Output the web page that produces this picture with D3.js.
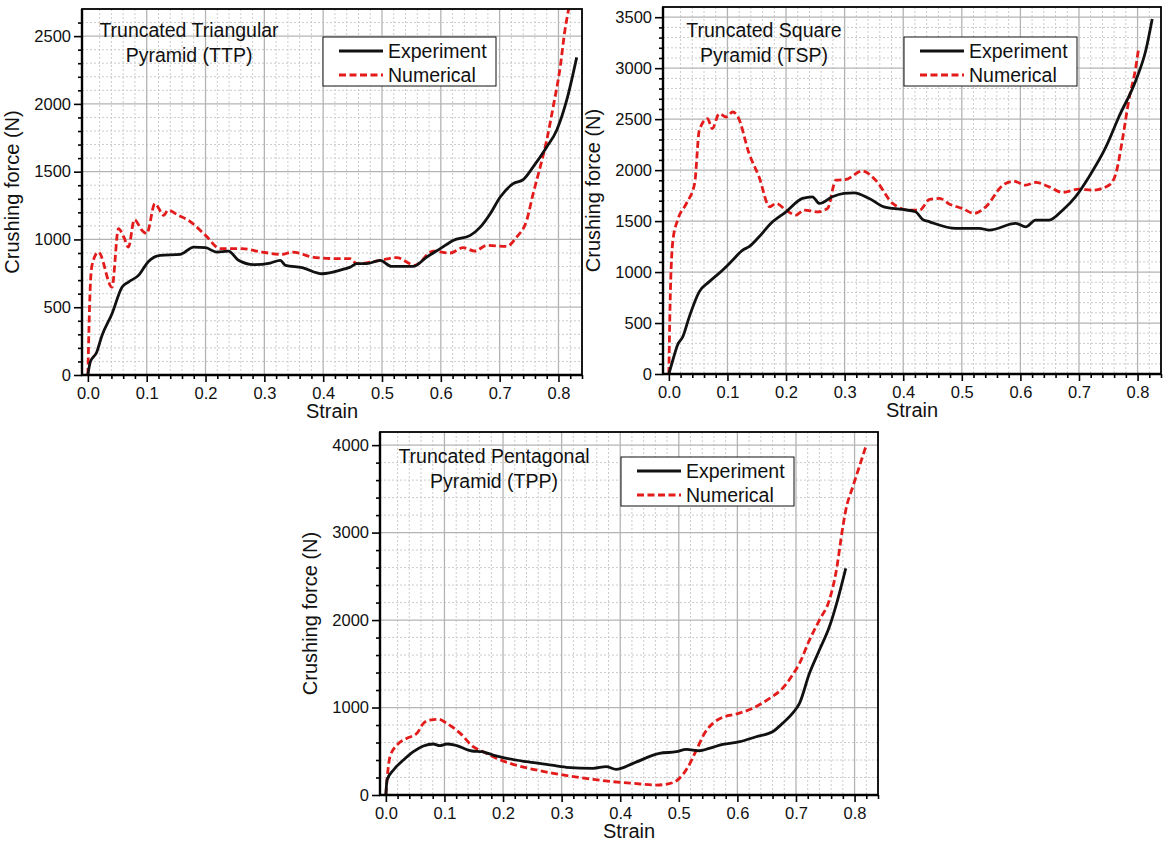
<!DOCTYPE html>
<html>
<head>
<meta charset="utf-8">
<script src="https://cdn.jsdelivr.net/npm/d3@7"></script>
<style>
  body { margin: 0; background: #fff; }
  svg { display: block; font-family: "Liberation Sans", Arial, sans-serif; }
  .tick text { font-family: "Liberation Sans", Arial, sans-serif; }
</style>
</head>
<body>
<div id="chart"></div>
<script>
// Strain / crushing force curves
const ttpExperiment = [[0,0],[0.004,95],[0.015,168],[0.024,292],[0.041,452],[0.058,648],[0.069,686],[0.086,735],[0.103,838],[0.123,883],[0.157,890],[0.18,944],[0.2,939],[0.219,907],[0.239,914],[0.256,846],[0.282,814],[0.31,826],[0.327,846],[0.336,809],[0.364,792],[0.398,747],[0.432,777],[0.446,796],[0.457,821],[0.474,821],[0.497,846],[0.516,801],[0.553,801],[0.576,870],[0.599,932],[0.621,993],[0.65,1030],[0.667,1091],[0.684,1190],[0.701,1313],[0.723,1412],[0.74,1441],[0.757,1535],[0.78,1682],[0.797,1806],[0.814,2027],[0.831,2343]];
const ttpNumerical = [[0,0],[0.004,648],[0.007,809],[0.018,907],[0.041,648],[0.052,1080],[0.061,1018],[0.069,944],[0.079,1146],[0.092,1067],[0.1,1043],[0.114,1264],[0.129,1178],[0.136,1215],[0.154,1178],[0.171,1141],[0.2,1030],[0.225,932],[0.262,932],[0.296,907],[0.33,890],[0.347,907],[0.387,866],[0.432,858],[0.446,858],[0.457,821],[0.497,846],[0.525,866],[0.556,809],[0.587,914],[0.616,900],[0.638,939],[0.658,914],[0.678,956],[0.712,949],[0.729,1018],[0.746,1141],[0.757,1338],[0.769,1535],[0.78,1732],[0.791,1978],[0.803,2273],[0.811,2544],[0.817,2692],[0.822,2800]];

const tspExperiment = [[0,0],[0.007,140],[0.015,287],[0.024,368],[0.035,563],[0.052,808],[0.069,906],[0.092,1020],[0.109,1118],[0.126,1216],[0.137,1249],[0.154,1346],[0.174,1477],[0.2,1591],[0.228,1722],[0.245,1738],[0.257,1673],[0.279,1738],[0.299,1771],[0.316,1777],[0.342,1722],[0.367,1640],[0.399,1614],[0.421,1591],[0.433,1517],[0.445,1493],[0.49,1428],[0.53,1428],[0.547,1412],[0.592,1477],[0.609,1444],[0.626,1510],[0.649,1510],[0.672,1607],[0.694,1738],[0.717,1933],[0.746,2227],[0.768,2521],[0.797,2880],[0.814,3173],[0.825,3483]];
const tspNumerical = [[0,0],[0.002,661],[0.007,1314],[0.015,1510],[0.03,1673],[0.044,1869],[0.052,2390],[0.066,2505],[0.074,2407],[0.086,2554],[0.098,2521],[0.109,2570],[0.118,2521],[0.137,2162],[0.154,1933],[0.172,1640],[0.183,1673],[0.2,1608],[0.217,1559],[0.231,1608],[0.254,1591],[0.271,1624],[0.285,1901],[0.302,1908],[0.33,1992],[0.353,1901],[0.382,1673],[0.41,1608],[0.428,1608],[0.445,1712],[0.462,1722],[0.479,1666],[0.501,1624],[0.521,1575],[0.541,1640],[0.57,1852],[0.589,1891],[0.609,1852],[0.626,1879],[0.649,1836],[0.672,1781],[0.7,1813],[0.723,1803],[0.751,1852],[0.763,1967],[0.774,2293],[0.785,2684],[0.797,3010],[0.802,3205]];

const tppExperiment = [[0,0],[0.002,171],[0.013,286],[0.03,400],[0.047,495],[0.064,560],[0.081,583],[0.092,564],[0.104,583],[0.118,571],[0.147,503],[0.164,495],[0.183,457],[0.206,419],[0.24,381],[0.274,351],[0.308,317],[0.354,305],[0.376,324],[0.393,294],[0.422,362],[0.467,476],[0.496,495],[0.513,522],[0.535,506],[0.552,533],[0.575,579],[0.604,609],[0.632,666],[0.66,723],[0.677,819],[0.694,933],[0.706,1048],[0.723,1391],[0.74,1657],[0.757,1923],[0.771,2229],[0.785,2591]];
const tppNumerical = [[0,0],[0.003,248],[0.007,438],[0.019,571],[0.036,648],[0.053,705],[0.064,819],[0.075,857],[0.09,865],[0.104,819],[0.127,705],[0.149,552],[0.166,495],[0.189,419],[0.217,351],[0.251,294],[0.286,248],[0.32,210],[0.354,179],[0.388,152],[0.422,133],[0.462,114],[0.49,141],[0.501,190],[0.516,324],[0.53,514],[0.544,705],[0.558,819],[0.575,888],[0.598,926],[0.626,991],[0.655,1105],[0.677,1219],[0.694,1371],[0.706,1505],[0.723,1771],[0.74,2000],[0.757,2229],[0.768,2534],[0.78,3066],[0.785,3257],[0.797,3524],[0.808,3752],[0.82,4000]];

// Tick values
const strainTicks = [0, 0.1, 0.2, 0.3, 0.4, 0.5, 0.6, 0.7, 0.8];
const ttpForceTicks = [0, 500, 1000, 1500, 2000, 2500];
const tspForceTicks = [0, 500, 1000, 1500, 2000, 2500, 3000, 3500];
const tppForceTicks = [0, 1000, 2000, 3000, 4000];
const seriesNames = ["Experiment", "Numerical"];

const colors = { exp: "#111111", num: "#e31b1b", major: "#b4b4b4", minor: "#cccccc" };
const FONT = '"Liberation Sans", Arial, sans-serif';

const svg = d3.select("#chart").append("svg")
    .attr("width", 1163)
    .attr("height", 845);

const panels = [
    { id: "ttp", title: ["Truncated Triangular", "Pyramid (TTP)"], exp: ttpExperiment, num: ttpNumerical,
      yTicks: ttpForceTicks, yMax: 2700, yMinorStep: 100,
      left: 82, top: 9, right: 582, bottom: 375, titleX: 189, titleY: 37, legendX: 323, legendY: 37 },
    { id: "tsp", title: ["Truncated Square", "Pyramid (TSP)"], exp: tspExperiment, num: tspNumerical,
      yTicks: tspForceTicks, yMax: 3600, yMinorStep: 100,
      left: 663, top: 7, right: 1161, bottom: 374, titleX: 764, titleY: 37, legendX: 904, legendY: 37 },
    { id: "tpp", title: ["Truncated Pentagonal", "Pyramid (TPP)"], exp: tppExperiment, num: tppNumerical,
      yTicks: tppForceTicks, yMax: 4150, yMinorStep: 200,
      left: 380, top: 432, right: 878, bottom: 795, titleX: 494, titleY: 463, legendX: 621, legendY: 457 }
];

panels.forEach(p => drawPanel(p));

function drawPanel(p) {
    const x = d3.scaleLinear().domain([-0.01, 0.84]).range([p.left, p.right]);
    const y = d3.scaleLinear().domain([0, p.yMax]).range([p.bottom, p.top]);

    const g = svg.append("g");

    // minor grid
    const xMinor = d3.range(0, 0.8401, 0.02).filter(v => Math.abs(v * 10 - Math.round(v * 10)) > 1e-6);
    const yMinor = d3.range(0, p.yMax, p.yMinorStep).filter(v => !p.yTicks.includes(v));
    g.selectAll(".vminor").data(xMinor).join("line")
        .attr("x1", d => x(d)).attr("x2", d => x(d))
        .attr("y1", p.top).attr("y2", p.bottom)
        .attr("stroke", colors.minor).attr("stroke-width", 1).attr("stroke-dasharray", "2,2");
    g.selectAll(".hminor").data(yMinor).join("line")
        .attr("x1", p.left).attr("x2", p.right)
        .attr("y1", d => y(d)).attr("y2", d => y(d))
        .attr("stroke", colors.minor).attr("stroke-width", 1).attr("stroke-dasharray", "2,2");

    // major grid
    g.selectAll(".vmajor").data(strainTicks.slice(1)).join("line")
        .attr("x1", d => x(d)).attr("x2", d => x(d))
        .attr("y1", p.top).attr("y2", p.bottom)
        .attr("stroke", colors.major).attr("stroke-width", 1.3);
    g.selectAll(".hmajor").data(p.yTicks.slice(1)).join("line")
        .attr("x1", p.left).attr("x2", p.right)
        .attr("y1", d => y(d)).attr("y2", d => y(d))
        .attr("stroke", colors.major).attr("stroke-width", 1.3);

    // curves
    const clipId = "clip-" + p.id;
    svg.append("clipPath").attr("id", clipId)
        .append("rect")
        .attr("x", p.left).attr("y", p.top)
        .attr("width", p.right - p.left).attr("height", p.bottom - p.top);

    const line = d3.line()
        .x(d => x(d[0]))
        .y(d => y(d[1]))
        .curve(d3.curveMonotoneX);

    const curves = g.append("g").attr("clip-path", `url(#${clipId})`);
    curves.append("path")
        .datum(p.num)
        .attr("d", line)
        .attr("fill", "none")
        .attr("stroke", colors.num)
        .attr("stroke-width", 2.8)
        .attr("stroke-dasharray", "7,3.5");
    curves.append("path")
        .datum(p.exp)
        .attr("d", line)
        .attr("fill", "none")
        .attr("stroke", colors.exp)
        .attr("stroke-width", 2.8);

    // axes
    g.append("g")
        .attr("transform", `translate(0,${p.bottom})`)
        .call(d3.axisBottom(x).tickValues(strainTicks).tickFormat(d3.format(".1f")).tickSize(7).tickPadding(5));
    g.append("g")
        .attr("transform", `translate(0,${p.bottom})`)
        .call(d3.axisBottom(x).tickValues(xMinor).tickFormat("").tickSize(4));

    g.append("g")
        .attr("transform", `translate(${p.left},0)`)
        .call(d3.axisLeft(y).tickValues(p.yTicks).tickFormat(d3.format("d")).tickSize(8).tickPadding(3));
    g.append("g")
        .attr("transform", `translate(${p.left},0)`)
        .call(d3.axisLeft(y).tickValues(yMinor).tickFormat("").tickSize(4));

    g.selectAll(".domain").remove();
    g.selectAll(".tick line").attr("stroke", "#000").attr("stroke-width", 1.6);
    g.selectAll(".tick text")
        .attr("fill", "#111")
        .style("font-size", "16.5px")
        .style("font-family", FONT);

    // frame
    g.append("rect")
        .attr("x", p.left).attr("y", p.top)
        .attr("width", p.right - p.left).attr("height", p.bottom - p.top)
        .attr("fill", "none").attr("stroke", "#000").attr("stroke-width", 1.8);
    g.append("line")
        .attr("x1", p.left).attr("x2", p.left).attr("y1", p.top).attr("y2", p.bottom + 1)
        .attr("stroke", "#000").attr("stroke-width", 2.4);
    g.append("line")
        .attr("x1", p.left - 1).attr("x2", p.right).attr("y1", p.bottom).attr("y2", p.bottom)
        .attr("stroke", "#000").attr("stroke-width", 2.4);

    // axis labels
    g.append("text")
        .attr("x", (p.left + p.right) / 2)
        .attr("y", p.bottom + 43)
        .attr("text-anchor", "middle")
        .attr("font-size", "20px")
        .attr("fill", "#111")
        .text("Strain");
    g.append("text")
        .attr("transform", `translate(${p.left - 63},${(p.top + p.bottom) / 2}) rotate(-90)`)
        .attr("text-anchor", "middle")
        .attr("font-size", "20px")
        .attr("fill", "#111")
        .text("Crushing force (N)");

    // title
    p.title.forEach((t, i) => {
        g.append("text")
            .attr("x", p.titleX)
            .attr("y", p.titleY + i * 25)
            .attr("text-anchor", "middle")
            .attr("font-size", "19.5px")
            .attr("fill", "#111")
            .text(t);
    });

    // legend
    const lg = g.append("g").attr("transform", `translate(${p.legendX},${p.legendY})`);
    lg.append("rect")
        .attr("width", 173).attr("height", 49)
        .attr("fill", "#fff").attr("stroke", "#111").attr("stroke-width", 1);
    seriesNames.forEach((name, i) => {
        const cy = 14 + i * 24;
        lg.append("line")
            .attr("x1", 16).attr("x2", 60)
            .attr("y1", cy).attr("y2", cy)
            .attr("stroke", i === 0 ? colors.exp : colors.num)
            .attr("stroke-width", 2.8)
            .attr("stroke-dasharray", i === 0 ? null : "7,3.5");
        lg.append("text")
            .attr("x", 65).attr("y", cy)
            .attr("dy", "0.35em")
            .attr("font-size", "19.5px")
            .attr("fill", "#111")
            .text(name);
    });
}
</script>
</body>
</html>
